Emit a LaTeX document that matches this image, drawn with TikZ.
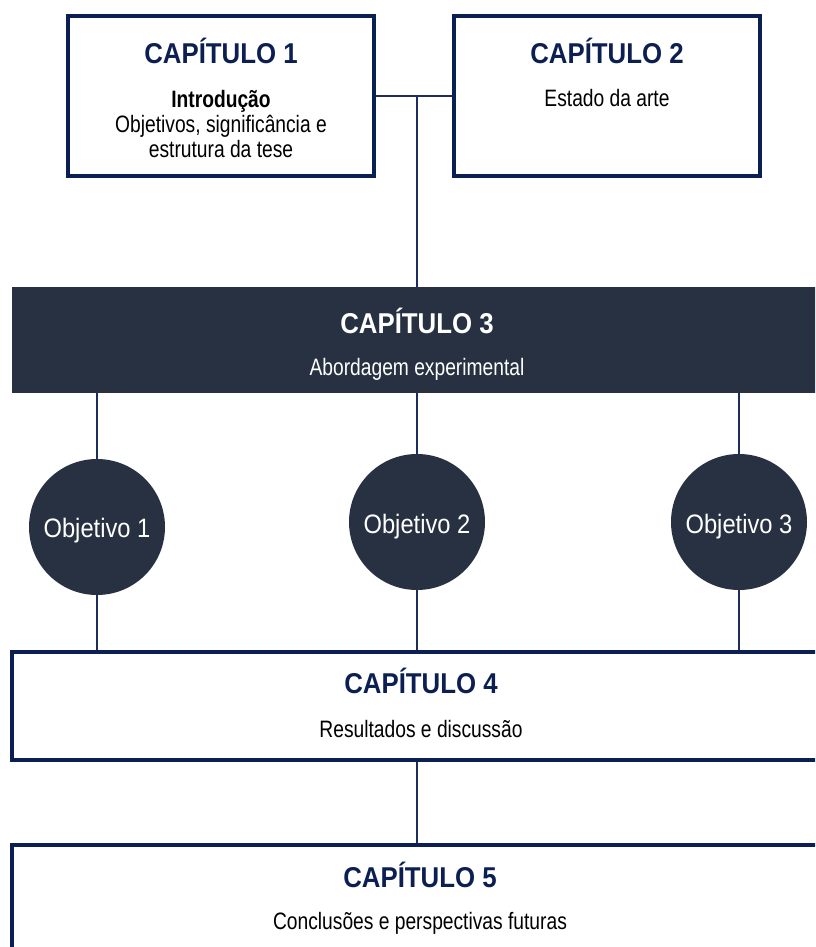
\documentclass[tikz,border=0pt]{standalone}
\usepackage{fontspec}
\setmainfont[FakeStretch=0.81]{Liberation Sans}
\newfontfamily\headfont[FakeStretch=0.9]{Liberation Sans}
\newfontfamily\objfont[FakeStretch=0.89]{Liberation Sans}
\definecolor{navy}{HTML}{0C1F52}
\definecolor{lnavy}{HTML}{1E2D5C}
\definecolor{darkbox}{HTML}{283142}
\begin{document}
\begin{tikzpicture}[x=0.75pt,y=-0.75pt,
  box/.style={draw=navy,line width=2.3pt,fill=white,inner sep=0pt},
  darkfill/.style={fill=darkbox,draw=none,inner sep=0pt},
  obj/.style={circle,fill=darkbox,draw=none,minimum size=102pt,inner sep=0pt},
  objtext/.style={text=white,font=\objfont\fontsize{20}{24}\selectfont,inner sep=0pt,anchor=base},
  head/.style={text=navy,font=\headfont\bfseries\fontsize{21.5}{26}\selectfont,inner sep=0pt,anchor=base},
  headw/.style={head,text=white},
  body/.style={text=black,font=\fontsize{17.8}{20}\selectfont,inner sep=0pt,anchor=base},
  bodyw/.style={body,text=white},
  conn/.style={draw=lnavy,line width=1.1pt}]
\useasboundingbox (0,0) rectangle (815,947);
\clip (0,0) rectangle (815,947);
% boxes
\node[box,minimum width=229.5pt,minimum height=120pt] (c1) at (221,96) {};
\node[box,minimum width=229.5pt,minimum height=120pt] (c2) at (607,96) {};
\node[darkfill,minimum width=607.5pt,minimum height=79.5pt] (c3) at (417,340) {};
\node[box,minimum width=607.5pt,minimum height=81pt] (c4) at (417,706) {};
\node[box,minimum width=607.5pt,minimum height=82.5pt] (c5) at (417,900) {};
% objectives
\node[obj] (o1) at (97,527) {};
\node[obj] (o2) at (417,522) {};
\node[obj] (o3) at (739,522) {};
\node[objtext] (ot1) at (97,537) {Objetivo 1};
\node[objtext] (ot2) at (417,533) {Objetivo 2};
\node[objtext] (ot3) at (739,533) {Objetivo 3};
% connectors
\draw[conn] (c1.east) -- (c2.west);
\draw[conn] (c3.north) -- (c3.north |- c1.east);
\draw[conn] (o1.north) -- (o1.north |- c3.south);
\draw[conn] (o2.north) -- (o2.north |- c3.south);
\draw[conn] (o3.north) -- (o3.north |- c3.south);
\draw[conn] (o1.south) -- (o1.south |- c4.north);
\draw[conn] (o2.south) -- (o2.south |- c4.north);
\draw[conn] (o3.south) -- (o3.south |- c4.north);
\draw[conn] (c4.south) -- (c5.north);
% texts
\node[head] (h1) at (221,63) {CAPÍTULO 1};
\node[body,font=\bfseries\fontsize{17.8}{20}\selectfont] (t1a) at (221,107) {Introdução};
\node[body] (t1b) at (221,132) {Objetivos, significância e};
\node[body] (t1c) at (221,157) {estrutura da tese};
\node[head] (h2) at (607,63) {CAPÍTULO 2};
\node[body] (t2) at (607,106) {Estado da arte};
\node[headw] (h3) at (417,333) {CAPÍTULO 3};
\node[bodyw] (t3) at (417,375) {Abordagem experimental};
\node[head] (h4) at (421,693) {CAPÍTULO 4};
\node[body] (t4) at (421,737) {Resultados e discussão};
\node[head] (h5) at (420,887) {CAPÍTULO 5};
\node[body] (t5) at (420,929) {Conclusões e perspectivas futuras};
\end{tikzpicture}
\end{document}
